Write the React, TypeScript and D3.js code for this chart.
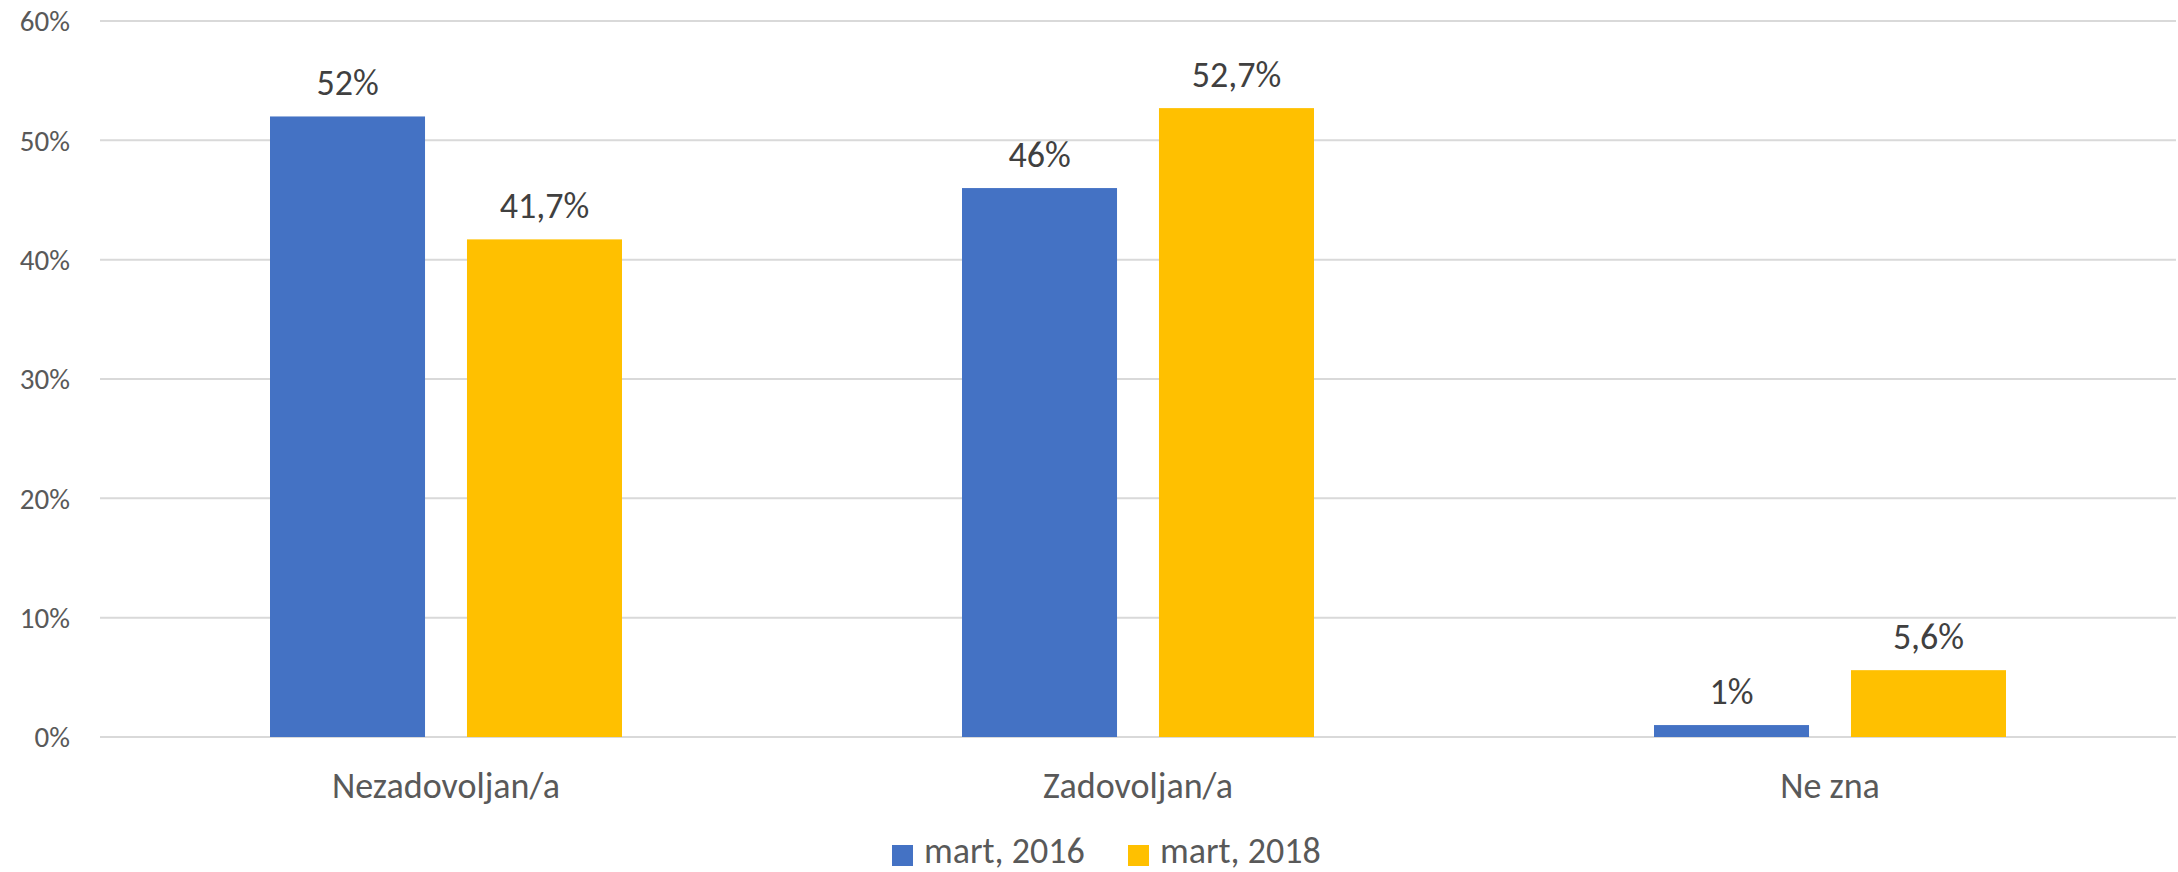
import * as d3 from 'd3';
import React, { useEffect, useRef } from 'react';

const categories = ['Nezadovoljan/a', 'Zadovoljan/a', 'Ne zna'];
const seriesNames = ['mart, 2016', 'mart, 2018'];
const values2016 = [52, 46, 1];
const values2018 = [41.7, 52.7, 5.6];
const yTicks = [0, 10, 20, 30, 40, 50, 60];
const colors = ['#4472C4', '#FFC000'];

const BarChart = () => {
    const chartArea = useRef<SVGSVGElement>(null);
    const width = 2178, height = 872;
    const margin = { top: 21, right: 2, bottom: 135, left: 100 };

    useEffect(() => {
        const svg = d3.select(chartArea.current);
        svg.selectAll('*').remove();

        const font = 'Calibri, Carlito, Lato, sans-serif';
        const locale = d3.formatLocale({ decimal: ',', thousands: '.', grouping: [3], currency: ['', ''] });
        const fmt = (v: number) => locale.format(Number.isInteger(v) ? 'd' : '.1f')(v) + '%';

        var x = d3.scaleBand()
            .domain(categories)
            .range([margin.left, width - margin.right])
            .padding(0);

        var xInner = d3.scaleBand()
            .domain(seriesNames)
            .range([-176, 176])
            .paddingInner(0.213);

        var y = d3.scaleLinear()
            .domain([0, 60])
            .range([height - margin.bottom, margin.top]);

        // grid + y labels
        const grid = svg.append('g');
        grid.selectAll('line').data(yTicks).join('line')
            .attr('x1', margin.left).attr('x2', width - margin.right)
            .attr('y1', d => y(d)).attr('y2', d => y(d))
            .attr('stroke', '#D9D9D9').attr('stroke-width', 2);
        grid.selectAll('text').data(yTicks).join('text')
            .attr('x', 70).attr('y', d => y(d)).attr('dy', '0.36em')
            .attr('text-anchor', 'end')
            .attr('font-family', font).attr('font-size', 29)
            .attr('fill', '#595959')
            .text(d => d + '%');

        const series = [values2016, values2018];
        series.forEach((vals, si) => {
            const g = svg.append('g');
            g.selectAll('rect').data(vals).join('rect')
                .attr('x', (d, i) => (x(categories[i]) as number) + x.bandwidth() / 2 + (xInner(seriesNames[si]) as number))
                .attr('y', d => y(d))
                .attr('width', xInner.bandwidth())
                .attr('height', d => y(0) - y(d))
                .attr('fill', colors[si]);
            g.selectAll('text').data(vals).join('text')
                .attr('x', (d, i) => (x(categories[i]) as number) + x.bandwidth() / 2 + (xInner(seriesNames[si]) as number) + xInner.bandwidth() / 2)
                .attr('y', d => y(d) - 21)
                .attr('text-anchor', 'middle')
                .attr('font-family', font).attr('font-size', 36)
                .attr('fill', '#404040')
                .text(d => fmt(d));
        });

        // category labels
        svg.append('g').selectAll('text').data(categories).join('text')
            .attr('x', d => (x(d) as number) + x.bandwidth() / 2)
            .attr('y', 798)
            .attr('text-anchor', 'middle')
            .attr('font-family', font).attr('font-size', 36)
            .attr('fill', '#595959')
            .text(d => d);

        // legend
        const legendX = [892, 1128];
        const legend = svg.append('g');
        seriesNames.forEach((name, i) => {
            legend.append('rect')
                .attr('x', legendX[i]).attr('y', 845)
                .attr('width', 21).attr('height', 21)
                .attr('fill', colors[i]);
            legend.append('text')
                .attr('x', legendX[i] + 32).attr('y', 863)
                .attr('font-family', font).attr('font-size', 36)
                .attr('fill', '#595959')
                .text(name);
        });
    }, []);

    return <svg
        ref={chartArea}
        width={width}
        height={height}
        style={{ position: 'absolute', left: 0, top: 0, display: 'block', background: '#fff' }}
    />;
}

export default function App() {
    return <BarChart />;
}
